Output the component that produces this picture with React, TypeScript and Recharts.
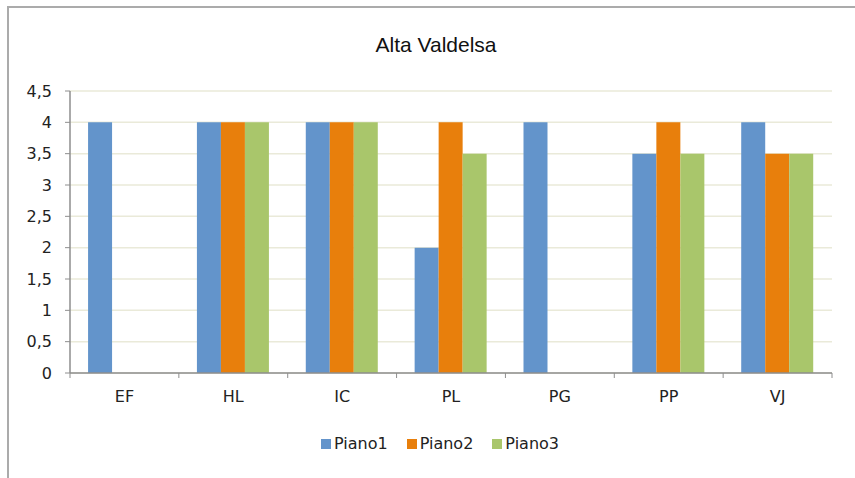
import React from "react";
import { BarChart, Bar, XAxis, YAxis, CartesianGrid, Legend } from "recharts";

const categories = ["EF", "HL", "IC", "PL", "PG", "PP", "VJ"];
const piano1 = [4, 4, 4, 2, 4, 3.5, 4];
const piano2 = [null, 4, 4, 4, null, 4, 3.5];
const piano3 = [null, 4, 4, 3.5, null, 3.5, 3.5];
const yTicks = [0, 0.5, 1, 1.5, 2, 2.5, 3, 3.5, 4, 4.5];
const seriesNames = ["Piano1", "Piano2", "Piano3"];
const title = "Alta Valdelsa";

const data = categories.map((c, i) => ({
  name: c,
  Piano1: piano1[i],
  Piano2: piano2[i],
  Piano3: piano3[i],
}));

const COLORS = ["#6394CB", "#E87F0C", "#A9C66B"];
const AXIS = "#8E8E8E";
const GRID = "#EAEAD9";
const TEXT = "#222222";
const FONT = "'DejaVu Sans', Verdana, sans-serif";
const TICK_SIZE = 5;
const TICK_MARGIN = 13;

const XTick = (props: any) => {
  const { x, y, payload, index, visibleTicksCount } = props;
  const off = payload && payload.offset ? payload.offset : 0;
  const y1 = y - TICK_MARGIN - TICK_SIZE;
  const y2 = y - TICK_MARGIN;
  const last = index === (visibleTicksCount ?? categories.length) - 1;
  return (
    <g>
      <line x1={x - off} x2={x - off} y1={y1} y2={y2} stroke={AXIS} strokeWidth={1} />
      {last && <line x1={x + off} x2={x + off} y1={y1} y2={y2} stroke={AXIS} strokeWidth={1} />}
      <text x={x} y={y} dy={11.4} textAnchor="middle" fill={TEXT} fontSize={16} fontFamily={FONT}>
        {payload.value}
      </text>
    </g>
  );
};

const LegendContent = (props: any) => {
  const { payload } = props;
  return (
    <div style={{ display: "flex", justifyContent: "center", alignItems: "center", height: 24, paddingLeft: 48 }}>
      {(payload || []).map((p: any, i: number) => (
        <div key={i} style={{ display: "flex", alignItems: "center", marginRight: i < payload.length - 1 ? 19 : 0 }}>
          <span style={{ display: "inline-block", width: 10, height: 10, background: p.color, marginRight: 3 }} />
          <span style={{ fontFamily: FONT, fontSize: 16, color: TEXT, lineHeight: "24px" }}>{p.value}</span>
        </div>
      ))}
    </div>
  );
};

export default function App() {
  return (
    <div style={{ position: "absolute", left: 0, top: 0, width: 855, height: 478, background: "#fff", overflow: "hidden" }}>
      <div
        style={{
          position: "absolute",
          left: 7,
          top: 6,
          width: 900,
          height: 600,
          borderTop: "2px solid #ABABAB",
          borderLeft: "2px solid #ABABAB",
          boxSizing: "border-box",
        }}
      />
      <div
        style={{
          position: "absolute",
          left: 336,
          top: 33,
          width: 200,
          textAlign: "center",
          fontFamily: "'Liberation Sans', Arial, sans-serif",
          fontSize: 21,
          color: "#111",
          whiteSpace: "nowrap",
        }}
      >
        {title}
      </div>
      <div style={{ position: "absolute", left: 0, top: 0 }}>
        <BarChart
          width={855}
          height={478}
          data={data}
          margin={{ top: 91, right: 23, bottom: 22, left: 0 }}
          barCategoryGap="16.6%"
          barGap={0}
        >
          <CartesianGrid horizontal vertical={false} stroke={GRID} strokeWidth={1.5} />
          <XAxis
            dataKey="name"
            height={59}
            axisLine={{ stroke: AXIS, strokeWidth: 1.5 }}
            tickLine={false}
            tickSize={TICK_SIZE}
            tickMargin={TICK_MARGIN}
            tick={<XTick />}
            interval={0}
          />
          <YAxis
            width={70}
            domain={[0, 4.5]}
            ticks={yTicks}
            interval={0}
            axisLine={{ stroke: AXIS, strokeWidth: 1.5 }}
            tickLine={{ stroke: AXIS }}
            tickSize={TICK_SIZE}
            tickMargin={13}
            tick={{ fill: TEXT, fontSize: 16, fontFamily: FONT }}
            tickFormatter={(v: number) => String(v).replace(".", ",")}
          />
          <Legend verticalAlign="bottom" align="center" height={24} content={<LegendContent />} />
          {seriesNames.map((s, i) => (
            <Bar key={s} dataKey={s} fill={COLORS[i]} isAnimationActive={false} />
          ))}
        </BarChart>
      </div>
    </div>
  );
}
